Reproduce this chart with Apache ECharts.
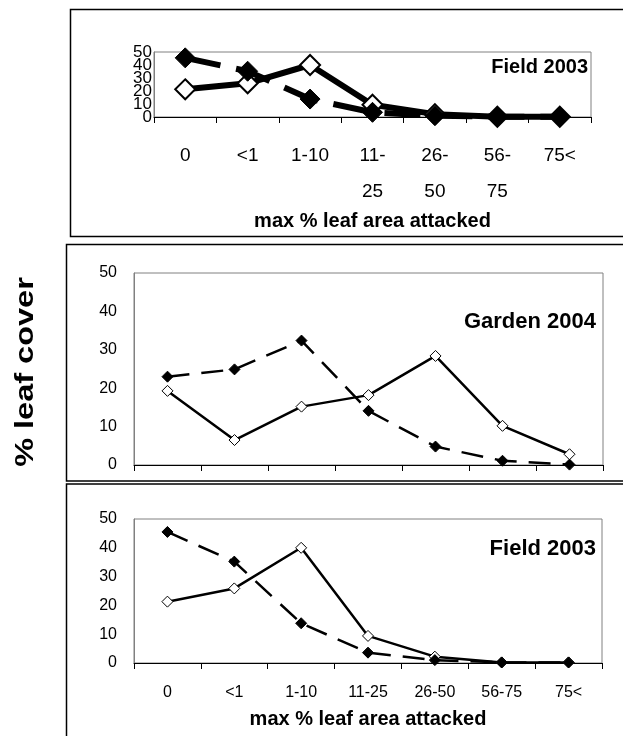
<!DOCTYPE html>
<html>
<head>
<meta charset="utf-8">
<script src="https://cdn.jsdelivr.net/npm/echarts@6/dist/echarts.min.js"></script>
<style>
  html, body { margin: 0; padding: 0; background: #fff; }
  #chart { width: 623px; height: 736px; }
</style>
</head>
<body>
<div id="chart"></div>
<script>
// Damage classes (max % leaf area attacked)
const categories = ['0', '<1', '1-10', '11-25', '26-50', '56-75', '75<'];
// The narrow top panel wraps the range labels onto two lines
const topTickLabels = ['0', '<1', '1-10', '11-\n25', '26-\n50', '56-\n75', '75<'];

// % leaf cover per damage class
const field2003Open   = [21.3, 25.9, 40.0, 9.4, 2.2, 0.2, 0.2];
const field2003Filled = [45.5, 35.2, 13.8, 3.6, 1.0, 0.2, 0.2];
const garden2004Open   = [19.3, 6.5, 15.2, 18.2, 28.4, 10.2, 2.8];
const garden2004Filled = [23.0, 24.9, 32.4, 14.1, 4.8, 1.1, 0.1];

const yMin = 0, yMax = 50, yStep = 10;
const panelTitles = ['Field 2003', 'Garden 2004', 'Field 2003'];
const xTitle = 'max % leaf area attacked';
const yTitle = '% leaf cover';

const FONT = "'Liberation Sans', Arial, sans-serif";

const chart = echarts.init(document.getElementById('chart'), null, { renderer: 'canvas' });

function xAxisFor(gridIndex, opts) {
  return {
    type: 'category',
    gridIndex: gridIndex,
    data: categories,
    boundaryGap: true,
    axisLine: { show: true, lineStyle: { color: '#000', width: 1 } },
    axisTick: { show: true, inside: false, length: opts.tickLen, lineStyle: { color: '#000' } },
    axisLabel: {
      show: opts.showLabels,
      interval: 0,
      hideOverlap: false,
      margin: opts.margin,
      fontFamily: FONT,
      fontSize: opts.fontSize,
      lineHeight: opts.lineHeight,
      color: '#000',
      formatter: opts.formatter
    },
    name: opts.name,
    nameLocation: 'middle',
    nameGap: opts.nameGap,
    nameTextStyle: { fontFamily: FONT, fontSize: opts.nameSize, fontWeight: 'bold', color: '#000' },
    splitLine: { show: false }
  };
}

function yAxisFor(gridIndex, opts) {
  return {
    type: 'value',
    gridIndex: gridIndex,
    position: 'left',
    offset: 0,
    min: yMin, max: yMax, interval: yStep,
    axisLine: { show: opts.showLine !== false, lineStyle: { color: '#808080', width: 1 } },
    axisTick: { show: false },
    axisLabel: {
      margin: opts.margin, fontFamily: FONT, fontSize: opts.fontSize, color: '#000',
      showMinLabel: true, showMaxLabel: true, hideOverlap: false,
      formatter: opts.formatter
    },
    splitLine: { show: false }
  };
}

// The top panel packs its tick values very tightly; they are split over two
// stacked label axes (even and odd steps) so that every value stays drawn.
const evenSteps = function (v) { return (v / yStep) % 2 === 0 ? String(v) : ''; };
const oddSteps  = function (v) { return (v / yStep) % 2 === 1 ? String(v) : ''; };

function solidSeries(idx, data, big) {
  return {
    type: 'line',
    xAxisIndex: idx, yAxisIndex: idx,
    data: data,
    symbol: 'diamond',
    symbolSize: big ? 20 : 11,
    showAllSymbol: true,
    itemStyle: { color: '#fff', borderColor: '#000', borderWidth: big ? 2 : 1 },
    lineStyle: { color: '#000', width: big ? 6 : 2.5, type: 'solid' },
    z: 2
  };
}

function dashedSeries(idx, data, big) {
  return {
    type: 'line',
    xAxisIndex: idx, yAxisIndex: idx,
    data: data,
    symbol: 'diamond',
    symbolSize: big ? 20 : 11,
    showAllSymbol: true,
    itemStyle: { color: '#000', borderColor: '#000', borderWidth: 1 },
    lineStyle: { color: '#000', width: big ? 6 : 2.5, type: big ? [36, 16] : [22, 12] },
    z: 3
  };
}

const gridBase = { show: true, borderColor: '#808080', borderWidth: 1, backgroundColor: 'transparent', containLabel: false };

const option = {
  animation: false,
  backgroundColor: '#fff',
  title: [
    { text: panelTitles[0], right: 35, top: 57, textStyle: { fontFamily: FONT, fontSize: 20, fontWeight: 'bold', color: '#000' }, padding: 0 },
    { text: panelTitles[1], right: 27, top: 311, textStyle: { fontFamily: FONT, fontSize: 22, fontWeight: 'bold', color: '#000' }, padding: 0 },
    { text: panelTitles[2], right: 27, top: 538, textStyle: { fontFamily: FONT, fontSize: 22, fontWeight: 'bold', color: '#000' }, padding: 0 }
  ],
  grid: [
    Object.assign({ left: 154, top: 52, width: 437, height: 65 }, gridBase),
    Object.assign({ left: 134, top: 273, width: 469, height: 192 }, gridBase),
    Object.assign({ left: 134, top: 519, width: 468, height: 144 }, gridBase)
  ],
  xAxis: [
    xAxisFor(0, { showLabels: true, tickLen: 6, margin: 21, fontSize: 19, lineHeight: 36,
                  formatter: function (v, i) { return topTickLabels[i]; },
                  name: xTitle, nameGap: 94, nameSize: 20 }),
    xAxisFor(1, { showLabels: false, tickLen: 6, margin: 8, fontSize: 16, lineHeight: 18,
                  formatter: null, name: '', nameGap: 0, nameSize: 16 }),
    xAxisFor(2, { showLabels: true, tickLen: 6, margin: 21, fontSize: 16, lineHeight: 18,
                  formatter: null, name: xTitle, nameGap: 46, nameSize: 20 })
  ],
  yAxis: [
    yAxisFor(0, { margin: 2, fontSize: 17, formatter: evenSteps }),
    yAxisFor(1, { margin: 17, fontSize: 16 }),
    yAxisFor(2, { margin: 17, fontSize: 16 }),
    yAxisFor(0, { margin: 2, fontSize: 17, formatter: oddSteps, showLine: false })
  ],
  series: [
    solidSeries(0, field2003Open, true),
    dashedSeries(0, field2003Filled, true),
    solidSeries(1, garden2004Open, false),
    dashedSeries(1, garden2004Filled, false),
    solidSeries(2, field2003Open, false),
    dashedSeries(2, field2003Filled, false)
  ],
  graphic: [
    // panel frames
    { type: 'rect', shape: { x: 70.5, y: 9.5, width: 600, height: 227 }, style: { fill: 'none', stroke: '#000', lineWidth: 1.5 }, silent: true, z: 0 },
    { type: 'rect', shape: { x: 66.5, y: 244.5, width: 600, height: 236.5 }, style: { fill: 'none', stroke: '#000', lineWidth: 1.5 }, silent: true, z: 0 },
    { type: 'rect', shape: { x: 66.5, y: 484, width: 600, height: 300 }, style: { fill: 'none', stroke: '#000', lineWidth: 1.5 }, silent: true, z: 0 },
    // shared y-axis title
    {
      type: 'text',
      x: 26, y: 372,
      rotation: Math.PI / 2,
      scaleX: 1.25,
      style: {
        text: yTitle,
        fontFamily: FONT, fontSize: 26, fontWeight: 'bold', fill: '#000',
        align: 'center', verticalAlign: 'middle'
      },
      silent: true
    }
  ]
};

chart.setOption(option);
</script>
</body>
</html>
